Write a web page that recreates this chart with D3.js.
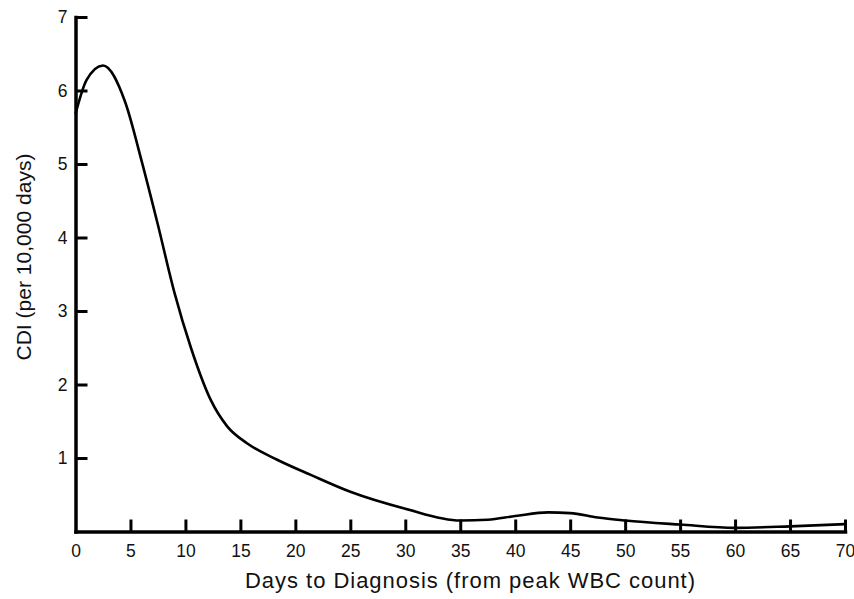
<!DOCTYPE html>
<html>
<head>
<meta charset="utf-8">
<script src="https://cdn.jsdelivr.net/npm/d3@7"></script>
<style>
  html, body { margin: 0; padding: 0; background: #fff; }
  svg { display: block; font-family: "Liberation Sans", Arial, Helvetica, sans-serif; }
</style>
</head>
<body>
<svg id="chart" width="854" height="599"></svg>
<script>
// ---- data ----
const days = [0, 1, 2.5, 4.5, 6, 7.5, 9, 10.5, 12.3, 13.8, 15.6, 18.3, 21.4, 25, 30, 35, 37.5, 40, 43, 45, 47.5, 50, 55, 60, 65, 70];
const cdi  = [5.68, 6.14, 6.34, 5.85, 5.05, 4.17, 3.25, 2.5, 1.79, 1.43, 1.2, 0.98, 0.77, 0.54, 0.31, 0.15, 0.16, 0.21, 0.26, 0.25, 0.19, 0.15, 0.095, 0.05, 0.07, 0.1];
const xTicks = [0, 5, 10, 15, 20, 25, 30, 35, 40, 45, 50, 55, 60, 65, 70];
const yTicks = [1, 2, 3, 4, 5, 6, 7];
const xTitle = "Days to Diagnosis (from peak WBC count)";
const yTitle = "CDI (per 10,000 days)";

const svg = d3.select("#chart");
const x = d3.scaleLinear().domain([0, 70]).range([75.5, 845]);
const y = d3.scaleLinear().domain([0, 7]).range([531.5, 17]);

// x axis
const gx = svg.append("g").attr("transform", `translate(0,${y(0)})`)
  .call(d3.axisBottom(x).tickValues(xTicks).tickFormat(d3.format("d"))
    .tickSizeInner(-12).tickSizeOuter(0).tickPadding(13.5));
// y axis
const gy = svg.append("g").attr("transform", `translate(${x(0)},0)`)
  .call(d3.axisLeft(y).tickValues(yTicks).tickFormat(d3.format("d"))
    .tickSizeInner(-12).tickSizeOuter(0).tickPadding(8));

[gx, gy].forEach(g => {
  g.select(".domain").attr("stroke", "#000").attr("stroke-width", 3.5).attr("stroke-linecap", "square");
  g.selectAll(".tick line").attr("stroke", "#000").attr("stroke-width", 3);
  g.selectAll(".tick text").attr("fill", "#111").style("font-size", "17.5px").style("font-family", "'Liberation Sans', Arial, sans-serif");
});
gx.select(".tick line").remove(); // tick at 0 coincides with the y axis

// curve
const line = d3.line()
  .x((d, i) => x(days[i]))
  .y(d => y(d))
  .curve(d3.curveMonotoneX);
svg.append("path")
  .datum(cdi)
  .attr("d", line)
  .attr("fill", "none")
  .attr("stroke", "#000")
  .attr("stroke-width", 2.6)
  .attr("stroke-linejoin", "round");

// titles
svg.append("text")
  .attr("x", 470).attr("y", 588)
  .attr("text-anchor", "middle")
  .attr("textLength", 450).attr("lengthAdjust", "spacing")
  .style("font-size", "22px").attr("fill", "#111")
  .text(xTitle);

svg.append("text")
  .attr("transform", "translate(31,257) rotate(-90)")
  .attr("text-anchor", "middle")
  .attr("textLength", 207).attr("lengthAdjust", "spacing")
  .style("font-size", "21px").attr("fill", "#111")
  .text(yTitle);
</script>
</body>
</html>
